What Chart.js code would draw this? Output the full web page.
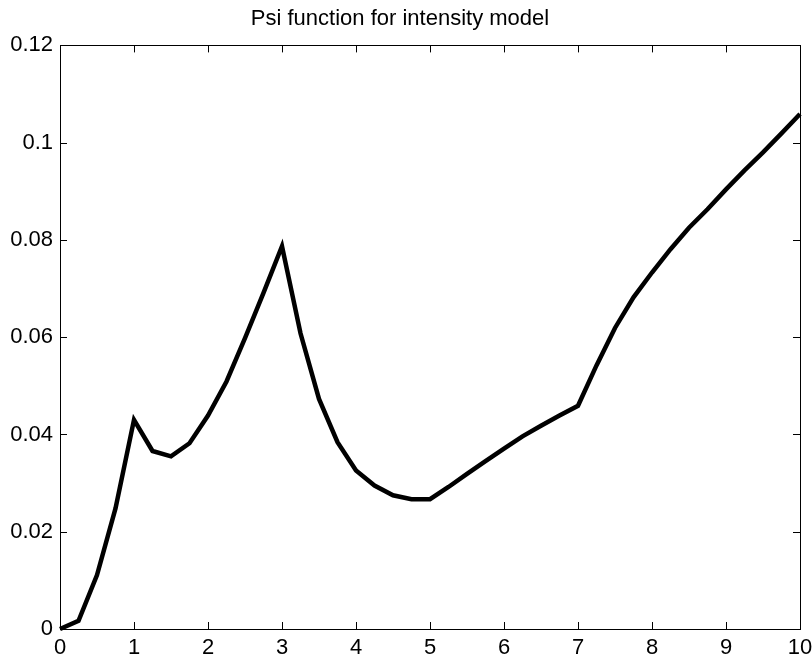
<!DOCTYPE html>
<html>
<head>
<meta charset="utf-8">
<script src="https://cdn.jsdelivr.net/npm/chart.js@4/dist/chart.umd.min.js"></script>
<style>
  html, body { margin: 0; padding: 0; background: #fff; }
  #wrap { width: 812px; height: 658px; }
</style>
</head>
<body>
<div id="wrap"><canvas id="psiChart" width="812" height="658"></canvas></div>
<script>
// x grid of the model (step 0.25)
const xValues = [
  0, 0.25, 0.5, 0.75, 1, 1.25, 1.5, 1.75, 2, 2.25, 2.5, 2.75, 3, 3.25, 3.5, 3.75,
  4, 4.25, 4.5, 4.75, 5, 5.25, 5.5, 5.75, 6, 6.25, 6.5, 6.75, 7, 7.25, 7.5, 7.75,
  8, 8.25, 8.5, 8.75, 9, 9.25, 9.5, 9.75, 10
];

// psi values
const psiValues = [
  0, 0.0017, 0.0111, 0.0248, 0.0430, 0.0366, 0.0355, 0.0382, 0.0439, 0.0509, 0.0598, 0.0691, 0.0787, 0.0608, 0.0473, 0.0384,
  0.0326, 0.0295, 0.0275, 0.0267, 0.0267, 0.0292, 0.0319, 0.0345, 0.0371, 0.0396, 0.0418, 0.0439, 0.0459, 0.0542, 0.0619, 0.0682,
  0.0733, 0.0781, 0.0825, 0.0863, 0.0904, 0.0943, 0.0980, 0.1019, 0.1059
];

const xTicks = [0, 1, 2, 3, 4, 5, 6, 7, 8, 9, 10];
const yTicks = [0, 0.02, 0.04, 0.06, 0.08, 0.1, 0.12];

const FONT = "'Liberation Sans', Arial, Helvetica, sans-serif";

// matlab style box with inward ticks on all four sides
const boxTicks = {
  id: "boxTicks",
  afterDatasetsDraw(chart) {
    const { ctx, chartArea: a, scales } = chart;
    const len = 7;
    ctx.save();
    ctx.strokeStyle = "#000";
    ctx.lineWidth = 1;
    ctx.beginPath();
    scales.x.ticks.forEach(t => {
      const px = Math.round(scales.x.getPixelForValue(t.value)) + 0.5;
      ctx.moveTo(px, a.bottom);
      ctx.lineTo(px, a.bottom - len);
      ctx.moveTo(px, a.top);
      ctx.lineTo(px, a.top + len);
    });
    scales.y.ticks.forEach(t => {
      const py = Math.round(scales.y.getPixelForValue(t.value)) + 0.5;
      ctx.moveTo(a.left, py);
      ctx.lineTo(a.left + len, py);
      ctx.moveTo(a.right, py);
      ctx.lineTo(a.right - len, py);
    });
    ctx.stroke();
    ctx.strokeRect(Math.round(a.left) + 0.5, Math.round(a.top) + 0.5,
      Math.round(a.right - a.left), Math.round(a.bottom - a.top));
    ctx.restore();
  }
};

new Chart(document.getElementById("psiChart"), {
  type: "line",
  data: {
    datasets: [{
      data: xValues.map((x, i) => ({ x: x, y: psiValues[i] })),
      borderColor: "#000",
      borderWidth: 4.5,
      pointRadius: 0,
      tension: 0,
      clip: false
    }]
  },
  options: {
    responsive: false,
    animation: false,
    layout: { padding: { left: 0, right: 12, top: 0, bottom: 0 } },
    plugins: {
      legend: { display: false },
      tooltip: { enabled: false },
      title: {
        display: true,
        text: "Psi function for intensity model",
        color: "#000",
        font: { family: FONT, size: 22, weight: "normal" },
        padding: { top: 6, bottom: 13 }
      }
    },
    scales: {
      x: {
        type: "linear",
        min: 0,
        max: 10,
        afterBuildTicks: s => { s.ticks = xTicks.map(v => ({ value: v })); },
        afterFit: s => { s.height = 29; s.paddingLeft = 0; s.paddingRight = 0; },
        grid: { display: false, drawTicks: false },
        border: { display: false },
        ticks: {
          color: "#000",
          padding: 6,
          maxRotation: 0,
          font: { family: FONT, size: 22 },
          callback: v => String(v)
        }
      },
      y: {
        type: "linear",
        min: 0,
        max: 0.12,
        afterBuildTicks: s => { s.ticks = yTicks.map(v => ({ value: v })); },
        afterFit: s => { s.width = 60; s.paddingTop = 0; s.paddingBottom = 0; },
        grid: { display: false, drawTicks: false },
        border: { display: false },
        ticks: {
          color: "#000",
          padding: 7,
          font: { family: FONT, size: 22 },
          callback: v => String(+v.toFixed(2))
        }
      }
    }
  },
  plugins: [boxTicks]
});
</script>
</body>
</html>
